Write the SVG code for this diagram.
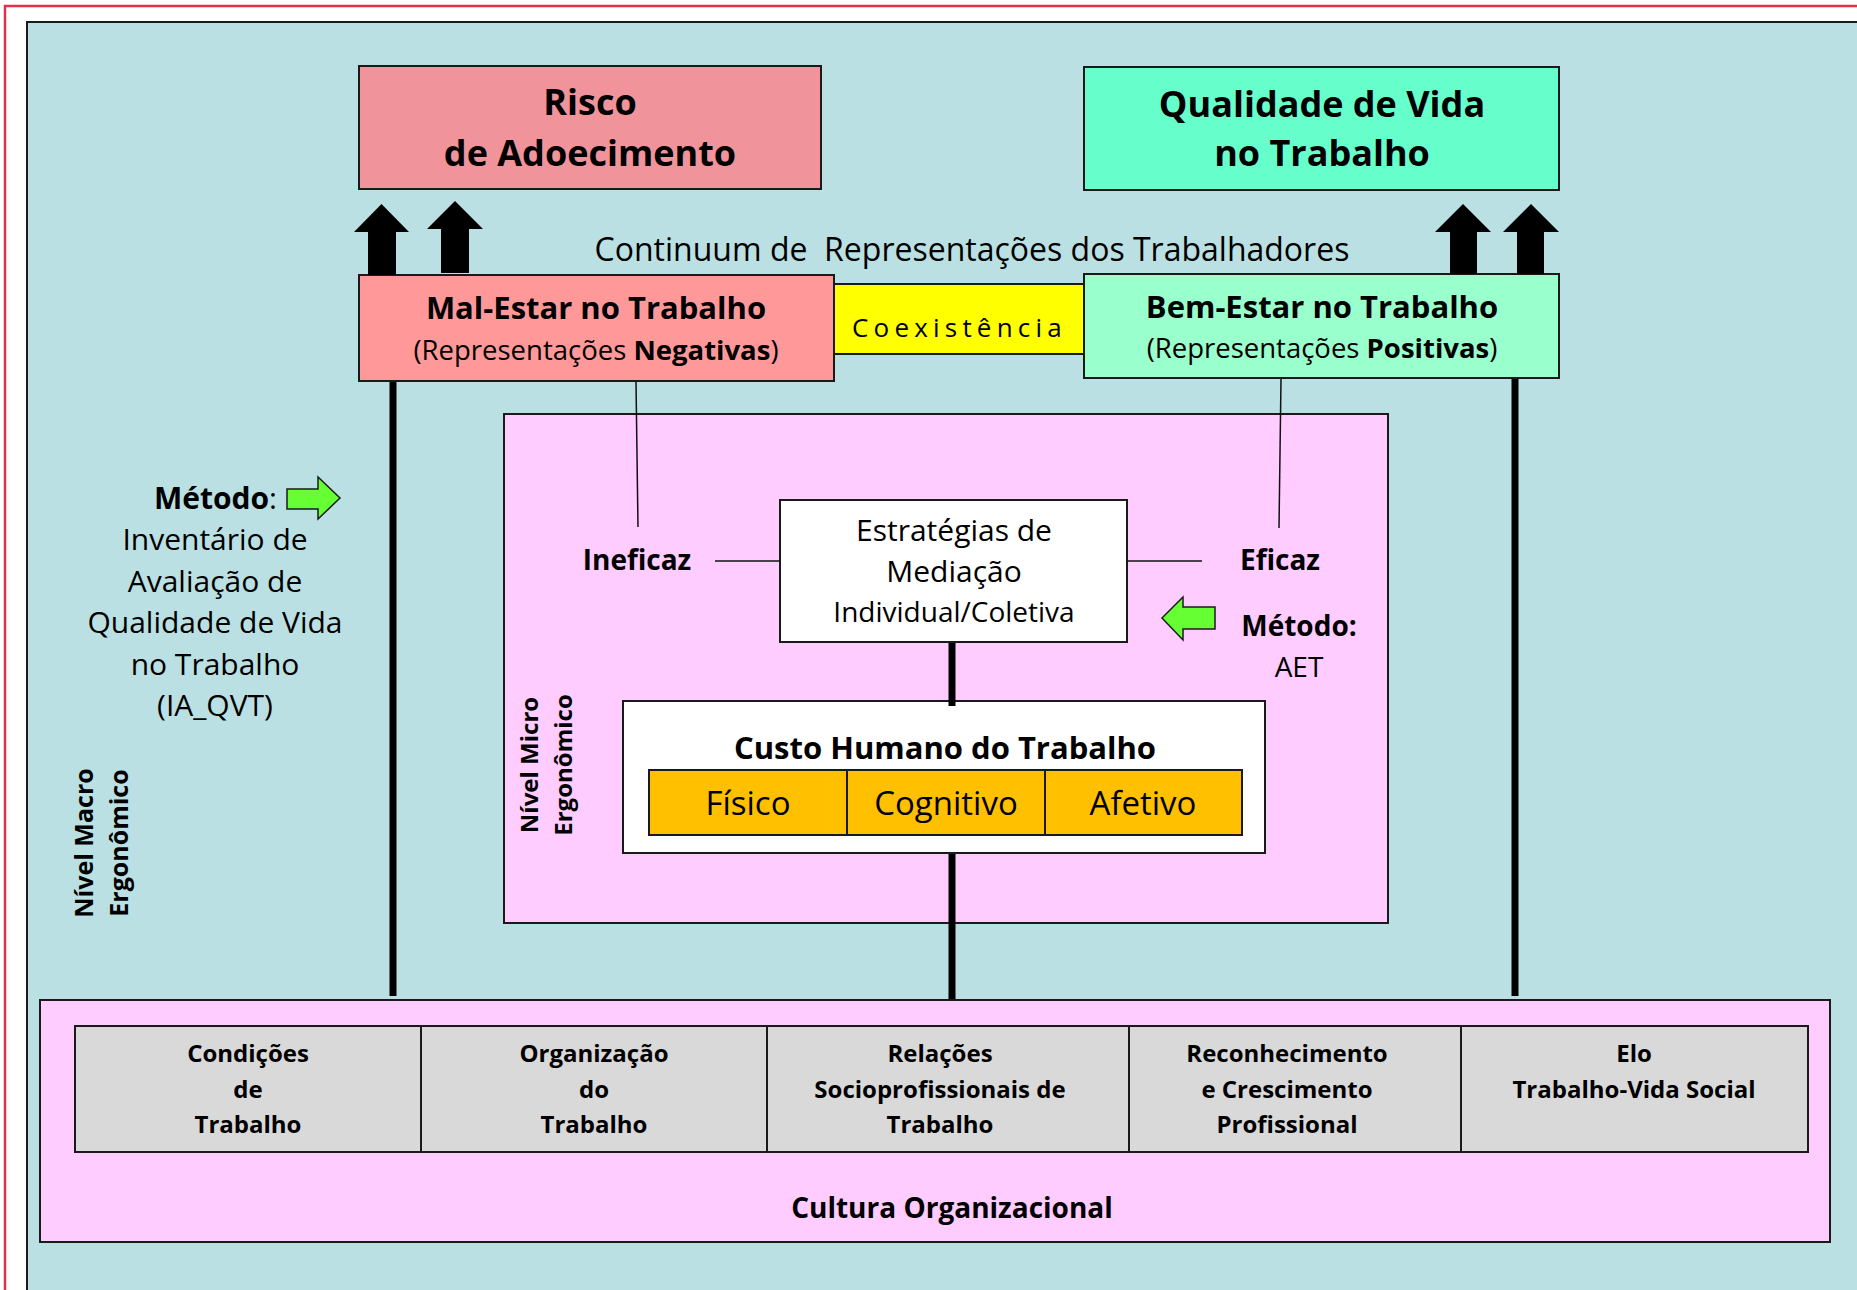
<svg xmlns="http://www.w3.org/2000/svg" width="1857" height="1290" viewBox="0 0 1857 1290">
<defs>
<style>
text{font-family:"Open Sans","Noto Sans","Liberation Sans",sans-serif;fill:#000}
.box{stroke:#1a1a1a;stroke-width:2}
.b{font-weight:bold}
.c{text-anchor:middle}
.thick{stroke:#000;stroke-width:7;fill:none}
.thin{stroke:#111;stroke-width:1.5;fill:none}
.green{fill:#66FF33;stroke:#1a1a1a;stroke-width:1.5}
.blk{fill:#000}
</style>
</defs>
<rect x="5" y="6" width="1900" height="1320" fill="#fff" stroke="#E0304C" stroke-width="2.5"/>
<rect x="27" y="22" width="1880" height="1320" fill="#BBE0E3" stroke="#1a1a1a" stroke-width="2"/>

<g id="risco">
<rect class="box" x="359" y="66" width="462" height="123" fill="#F1939A"/>
<text class="b c" x="590" y="115" font-size="36">Risco</text>
<text class="b c" x="590" y="166" font-size="36">de Adoecimento</text>
</g>

<g id="qvt">
<rect class="box" x="1084" y="67" width="475" height="123" fill="#66FFCC"/>
<text class="b c" x="1322" y="117" font-size="36">Qualidade de Vida</text>
<text class="b c" x="1322" y="166" font-size="36">no Trabalho</text>
</g>

<g id="continuum">
<text class="c" x="972" y="261" font-size="32" style="white-space:pre">Continuum de  Representações dos Trabalhadores</text>
</g>

<g id="coexistencia">
<rect class="box" x="834" y="284" width="250" height="70" fill="#FFFF00"/>
<text x="852" y="337" font-size="26" letter-spacing="5.2">Coexistência</text>
</g>

<g id="mal-estar">
<rect class="box" x="359" y="275" width="475" height="106" fill="#FF9999"/>
<text class="b c" x="596" y="319" font-size="31">Mal-Estar no Trabalho</text>
<text class="c" x="596" y="360" font-size="27.5">(Representações <tspan class="b">Negativas</tspan>)</text>
</g>

<g id="bem-estar">
<rect class="box" x="1084" y="274" width="475" height="104" fill="#99FFCC"/>
<text class="b c" x="1322" y="318" font-size="31">Bem-Estar no Trabalho</text>
<text class="c" x="1322" y="358" font-size="27.5">(Representações <tspan class="b">Positivas</tspan>)</text>
</g>

<g id="metodo-macro">
<text x="277" y="509" font-size="30" text-anchor="end"><tspan class="b">Método</tspan>:</text>
<polygon class="green" points="287,489 318,489 318,477 340,498 318,519 318,509 287,509"/>
<text class="c" x="215" y="550" font-size="30">Inventário de</text>
<text class="c" x="215" y="592" font-size="30">Avaliação de</text>
<text class="c" x="215" y="633" font-size="30">Qualidade de Vida</text>
<text class="c" x="215" y="675" font-size="30">no Trabalho</text>
<text class="c" x="215" y="716" font-size="30">(IA_QVT)</text>
</g>

<g id="nivel-macro">
<text class="b c" font-size="25" transform="translate(93,843) rotate(-90)">Nível Macro</text>
<text class="b c" font-size="25" transform="translate(128,843) rotate(-90)">Ergonômico</text>
</g>

<g id="micro">
<rect class="box" x="504" y="414" width="884" height="509" fill="#FFCCFF"/>
<text class="b c" font-size="24" transform="translate(538,765) rotate(-90)">Nível Micro</text>
<text class="b c" font-size="24" transform="translate(572,765) rotate(-90)">Ergonômico</text>
</g>

<g id="ineficaz">
<text class="b c" x="637" y="570" font-size="28">Ineficaz</text>
</g>
<g id="eficaz">
<text class="b c" x="1280" y="570" font-size="28">Eficaz</text>
</g>

<g id="estrategias">
<rect class="box" x="780" y="500" width="347" height="142" fill="#fff"/>
<text class="c" x="954" y="541" font-size="30">Estratégias de</text>
<text class="c" x="954" y="582" font-size="30">Mediação</text>
<text class="c" x="954" y="622" font-size="28">Individual/Coletiva</text>
</g>

<g id="metodo-micro">
<polygon class="green" points="1162,618 1183,597 1183,607 1215,607 1215,629 1183,629 1183,640"/>
<text class="b c" x="1299" y="636" font-size="28">Método:</text>
<text class="c" x="1299" y="677" font-size="28">AET</text>
</g>

<g id="custo">
<rect class="box" x="623" y="701" width="642" height="152" fill="#fff"/>
<text class="b c" x="945" y="759" font-size="31">Custo Humano do Trabalho</text>
<rect class="box" x="649" y="770" width="593" height="65" fill="#FFC000"/>
<line class="box" x1="847" y1="770" x2="847" y2="835"/>
<line class="box" x1="1045" y1="770" x2="1045" y2="835"/>
<text class="c" x="748" y="815" font-size="33">Físico</text>
<text class="c" x="946" y="815" font-size="33">Cognitivo</text>
<text class="c" x="1143" y="815" font-size="33">Afetivo</text>
</g>

<g id="cultura">
<rect class="box" x="40" y="1000" width="1790" height="242" fill="#FFCCFF"/>
<rect class="box" x="75" y="1026" width="1733" height="126" fill="#D9D9D9"/>
<line class="box" x1="421" y1="1026" x2="421" y2="1152"/>
<line class="box" x1="767" y1="1026" x2="767" y2="1152"/>
<line class="box" x1="1129" y1="1026" x2="1129" y2="1152"/>
<line class="box" x1="1461" y1="1026" x2="1461" y2="1152"/>
<text class="b c" x="952" y="1218" font-size="28">Cultura Organizacional</text>
</g>

<g id="condicoes">
<text class="b c" x="248" y="1062" font-size="24">Condições</text>
<text class="b c" x="248" y="1098" font-size="24">de</text>
<text class="b c" x="248" y="1133" font-size="24">Trabalho</text>
</g>
<g id="organizacao">
<text class="b c" x="594" y="1062" font-size="24">Organização</text>
<text class="b c" x="594" y="1098" font-size="24">do</text>
<text class="b c" x="594" y="1133" font-size="24">Trabalho</text>
</g>
<g id="relacoes">
<text class="b c" x="940" y="1062" font-size="24">Relações</text>
<text class="b c" x="940" y="1098" font-size="24">Socioprofissionais de</text>
<text class="b c" x="940" y="1133" font-size="24">Trabalho</text>
</g>
<g id="reconhecimento">
<text class="b c" x="1287" y="1062" font-size="24">Reconhecimento</text>
<text class="b c" x="1287" y="1098" font-size="24">e Crescimento</text>
<text class="b c" x="1287" y="1133" font-size="24">Profissional</text>
</g>
<g id="elo">
<text class="b c" x="1634" y="1062" font-size="24">Elo</text>
<text class="b c" x="1634" y="1098" font-size="24">Trabalho-Vida Social</text>
</g>

<g id="connectors">
<line class="thick" x1="393" y1="382" x2="393" y2="996"/>
<line class="thick" x1="1515" y1="379" x2="1515" y2="996"/>
<line class="thick" x1="952" y1="643" x2="952" y2="706"/>
<line class="thick" x1="952" y1="854" x2="952" y2="999"/>
<line class="thin" x1="636" y1="382" x2="638" y2="527"/>
<line class="thin" x1="1281" y1="379" x2="1279" y2="528"/>
<line class="thin" x1="715" y1="561" x2="780" y2="561"/>
<line class="thin" x1="1127" y1="561" x2="1202" y2="561"/>
<polygon class="blk" points="368,275 368,232 354,232 381.5,204 409,232 396,232 396,275"/>
<polygon class="blk" points="441,273 441,229 427,229 455,201 483,229 469,229 469,273"/>
<polygon class="blk" points="1450,274 1450,232 1435,232 1463,204 1491,232 1477,232 1477,274"/>
<polygon class="blk" points="1517,274 1517,232 1503,232 1531,204 1559,232 1544,232 1544,274"/>
</g>
</svg>
